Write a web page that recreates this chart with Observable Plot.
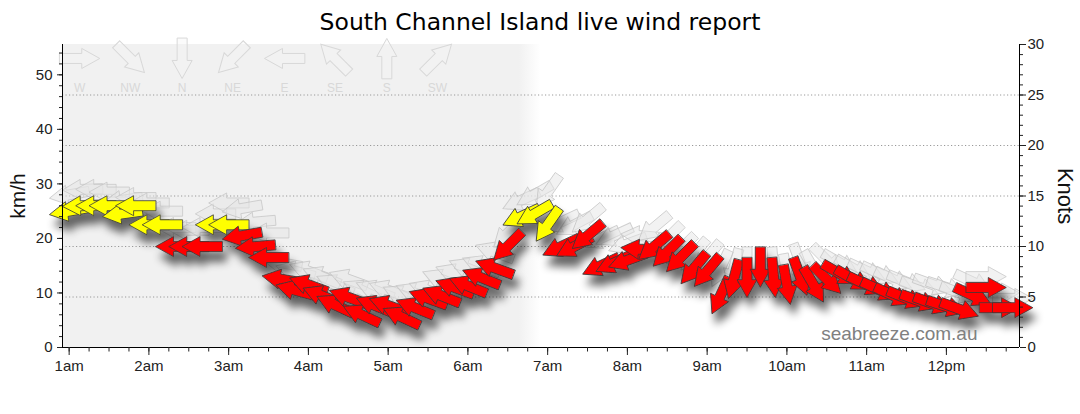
<!DOCTYPE html>
<html>
<head>
<meta charset="utf-8">
<script src="https://cdn.jsdelivr.net/npm/d3@7"></script>
<script src="https://cdn.jsdelivr.net/npm/@observablehq/plot@0.6"></script>
<style>
  body { margin: 0; background: #fff; width: 1080px; height: 414px; overflow: hidden; }
  #title { height: 36px; line-height: 44px; text-align: center; font-family: "DejaVu Sans", sans-serif; font-size: 23.5px; color: #000; white-space: nowrap; }
  #chart svg { display: block; }
</style>
</head>
<body>
<div id="title">South Channel Island live wind report</div>
<div id="chart"></div>
<script>
// ---- data (10-minute readings from 1:00am) ----
const firstReading = [1, 0];          // hour, minute
const readingIntervalMin = 10;
const speedKmh = [
  25.0, 26.0, 26.0, 26.0, 24.5, 26.0,
  22.5, 22.5, 18.5, 18.5, 18.5, 22.5,
  22.5, 20.5, 18.5, 16.5, 12.5, 10.5,
  11.5, 9.5, 7.8, 9.2, 6.0, 7.7,
  7.7, 5.6, 7.3, 9.0, 9.5, 11.0,
  11.3, 12.8, 14.6, 18.6, 24.0, 24.5,
  22.5, 18.5, 18.5, 20.5, 15.0, 15.5,
  16.0, 18.0, 18.5, 17.5, 16.5, 14.5,
  14.0, 9.5, 12.5, 12.8, 14.7, 12.8,
  11.5, 13.0, 11.5, 12.5, 13.5, 12.5,
  11.5, 10.5, 9.5, 9.0, 8.5, 8.0,
  7.5, 7.0, 9.5, 11.0, 7.3, 7.3
];
const gustKmh = [
  28.0, 29.0, 29.0, 28.5, 27.0, 27.5,
  26.5, 25.0, 22.0, 21.5, 22.0, 24.5,
  26.5, 25.5, 23.0, 21.0, 15.5, 14.0,
  14.0, 13.0, 11.5, 12.5, 10.5, 10.5,
  10.5, 9.5, 10.0, 10.5, 12.5, 13.5,
  14.5, 15.0, 17.5, 21.0, 27.0, 28.0,
  28.5, 23.0, 22.5, 23.5, 20.0, 20.5,
  19.0, 20.5, 22.0, 20.0, 18.0, 17.0,
  16.5, 14.5, 14.5, 14.7, 14.7, 14.7,
  13.5, 15.5, 14.5, 16.0, 15.5, 14.5,
  14.0, 13.5, 12.5, 12.0, 11.0, 11.5,
  11.0, 10.0, 12.0, 13.0, 10.0, 9.0
];
// direction the wind comes FROM, degrees
const directionFrom = [
  80, 88, 90, 90, 82, 90,
  90, 90, 90, 90, 90, 90,
  90, 80, 85, 90, 100, 105,
  110, 112, 115, 110, 115, 112,
  110, 115, 112, 110, 112, 110,
  112, 112, 110, 45, 65, 60,
  35, 65, 62, 50, 65, 65,
  70, 95, 50, 45, 45, 40,
  40, 25, 15, 0, 0, 355,
  350, 340, 330, 315, 300, 300,
  295, 295, 295, 292, 290, 290,
  288, 290, 295, 270, 270, 270
];
const yellowAboveKmh = 21;
const compassLabels = ["W", "NW", "N", "NE", "E", "SE", "S", "SW"];
const compassFrom = [270, 315, 0, 45, 90, 135, 180, 225];
const hourLabels = ["1am","2am","3am","4am","5am","6am","7am","8am","9am","10am","11am","12pm"];
const knotTicks = [0, 5, 10, 15, 20, 25, 30];
const kmhTicks = [0, 10, 20, 30, 40, 50];
const gridKnots = [5, 10, 15, 20, 25];
const KMH_PER_KNOT = 1.852;

// ---- derived tables ----
const day = (h, m) => new Date(2024, 0, 1, h, m);
const t0 = day(firstReading[0], firstReading[1]);
const readings = speedKmh.map((s, i) => ({
  time: d3.timeMinute.offset(t0, i * readingIntervalMin),
  speed: s,
  gust: gustKmh[i],
  from: directionFrom[i]
}));
const xStart = day(0, 55), xEnd = day(12, 55);
const nightEnd = day(6, 55);
const hourTicks = hourLabels.map((_, i) => day(i + 1, 0));
const quarterTicks = d3.timeMinute.every(15).range(xStart, xEnd);
const yMax = 30 * KMH_PER_KNOT;

// vector shape: filled block arrow pointing "up" from origin
const blockArrow = {
  draw(ctx, l) {
    const hw = 10, sw = 5, hl = 18;
    ctx.moveTo(-sw, 0);
    ctx.lineTo(-sw, -(l - hl));
    ctx.lineTo(-hw, -(l - hl));
    ctx.lineTo(0, -l);
    ctx.lineTo(hw, -(l - hl));
    ctx.lineTo(sw, -(l - hl));
    ctx.lineTo(sw, 0);
    ctx.closePath();
  }
};

// compass legend placed along the top of the frame
const legendTime = (i) => d3.timeMinute.offset(day(1, 8), i * 38.5);

const svg = Plot.plot({
  width: 1080,
  height: 378,
  marginTop: 8,
  marginBottom: 67,
  marginLeft: 62,
  marginRight: 61,
  style: { fontFamily: "'Liberation Sans', Arial, sans-serif", fontSize: "15px", color: "#222", background: "white", overflow: "visible" },
  x: { type: "time", domain: [xStart, xEnd], label: null },
  y: { domain: [0, yMax], label: null },
  marks: [
    Plot.rect([{ start: xStart, end: nightEnd }], { x1: "start", x2: "end", y1: () => 0, y2: () => yMax, fill: "url(#nightGrad)" }),
    Plot.ruleY(gridKnots.map(k => k * KMH_PER_KNOT), { stroke: "#999", strokeDasharray: "1.2,2.3", strokeWidth: 1 }),
    // compass legend
    Plot.vector(compassLabels, {
      x: (d, i) => legendTime(i), y: () => 53, rotate: (d, i) => compassFrom[i] + 180,
      length: 40, shape: blockArrow, fill: "#f4f4f4", fillOpacity: 0.4, stroke: "#d8d8d8", strokeWidth: 1, strokeLinejoin: "miter"
    }),
    Plot.text(compassLabels, { x: (d, i) => legendTime(i), y: () => 47.6, text: d => d, fill: "#d8d8d8", fontSize: 12 }),
    // gust arrows
    Plot.vector(readings, {
      x: "time", y: "gust", rotate: d => d.from + 180, length: 40, shape: blockArrow,
      fill: "#e6e6e6", fillOpacity: 0.5, stroke: "#c4c4c4", strokeOpacity: 0.8, strokeWidth: 0.9, strokeLinejoin: "miter"
    }),
    // wind arrows
    Plot.vector(readings, {
      x: "time", y: "speed", rotate: d => d.from + 180, length: 40, shape: blockArrow,
      fill: d => d.speed > yellowAboveKmh ? "#ffff00" : "#ff0000", stroke: "#3a3a3a", strokeWidth: 0.8, strokeLinejoin: "miter"
    }),
    // frame lines
    Plot.ruleY([0], { stroke: "#000" }),
    Plot.ruleX([xStart, xEnd], { stroke: "#000" }),
    // axes
    Plot.axisY(kmhTicks, { anchor: "left", tickSize: 5, tickPadding: 5, label: null, fill: "#222" }),
    Plot.axisY(d3.range(0, 56, 2), { anchor: "left", tickSize: 3, fill: "none", label: null }),
    Plot.axisY(knotTicks.map(k => k * KMH_PER_KNOT), { anchor: "right", tickSize: 6, tickPadding: 2, label: null, fill: "#222", tickFormat: d => Math.round(d / KMH_PER_KNOT) }),
    Plot.axisY(d3.range(0, 31).map(k => k * KMH_PER_KNOT), { anchor: "right", tickSize: 3, fill: "none", label: null }),
    Plot.axisX(hourTicks, { tickSize: 8, tickPadding: 5, label: null, fill: "#222", tickFormat: d => hourLabels[d.getHours() - 1] }),
    Plot.axisX(quarterTicks, { tickSize: 4.5, fill: "none", label: null }),
    // axis titles and credit
    Plot.text(["km/h"], { frameAnchor: "left", dx: -44, rotate: -90, textAnchor: "middle", lineAnchor: "middle", fontSize: 21, fill: "#111" }),
    Plot.text(["Knots"], { frameAnchor: "right", dx: 46, rotate: 90, textAnchor: "middle", lineAnchor: "middle", fontSize: 22, fill: "#111" }),
    Plot.text(["seabreeze.com.au"], { frameAnchor: "bottom-right", dx: -42, dy: -8, textAnchor: "end", lineAnchor: "bottom", fontSize: 19, fill: "#808080" })
  ]
});

// defs: night gradient + drop shadow
const defs = d3.select(svg).insert("defs", ":first-child");
const g = defs.append("linearGradient").attr("id", "nightGrad").attr("x1", 0).attr("x2", 1).attr("y1", 0).attr("y2", 0);
g.append("stop").attr("offset", 0.955).attr("stop-color", "#f1f1f1");
g.append("stop").attr("offset", 1).attr("stop-color", "#ffffff");
const f = defs.append("filter").attr("id", "arrowShadow").attr("filterUnits", "userSpaceOnUse")
  .attr("x", 0).attr("y", 0).attr("width", 1080).attr("height", 378);
f.append("feGaussianBlur").attr("in", "SourceAlpha").attr("stdDeviation", 4);
f.append("feOffset").attr("dx", 4).attr("dy", 10).attr("result", "off");
const ct = f.append("feComponentTransfer").attr("in", "off").attr("result", "sh");
ct.append("feFuncA").attr("type", "linear").attr("slope", 0.6);
const m = f.append("feMerge");
m.append("feMergeNode").attr("in", "sh");
m.append("feMergeNode").attr("in", "SourceGraphic");
const vectorGroups = svg.querySelectorAll('g[aria-label="vector"]');
if (vectorGroups.length) vectorGroups[vectorGroups.length - 1].setAttribute("filter", "url(#arrowShadow)");

document.getElementById("chart").appendChild(svg);
</script>
</body>
</html>
